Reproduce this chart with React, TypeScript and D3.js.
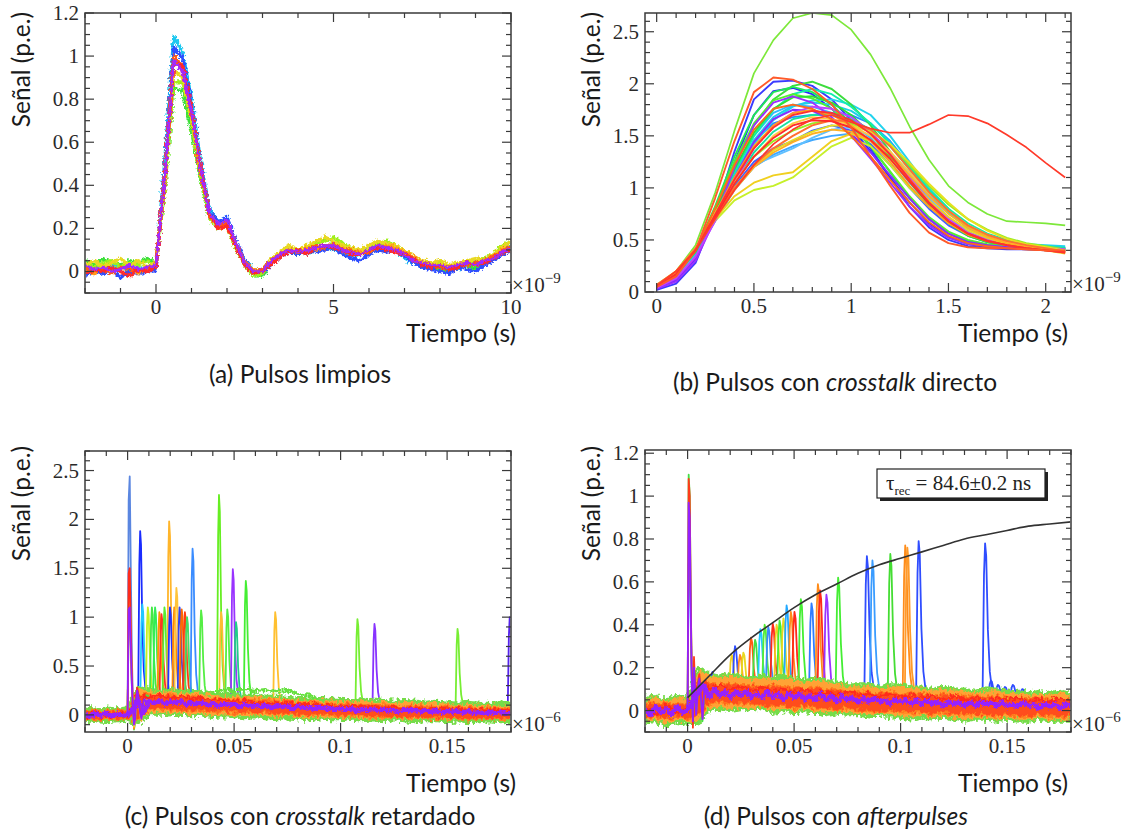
import React from "react";
import * as d3 from "d3";

const SERIF = "'Liberation Serif', 'Times New Roman', serif";
const SANS = "Lato, 'Open Sans', sans-serif";

// ---------------- Panel (a): pulsos limpios ----------------
const timeA = d3.range(-2, 10.001, 0.25);
const tracesA: number[][] = [
  [0.05,0.03,0.06,0.04,0.03,0.05,0.04,0.06,0.04, 0.4,0.85,0.84,0.66,0.43,0.25,0.2,0.22, 0.12,0.03,-0.02,-0.02,0.04,0.08,0.09,0.08, 0.1,0.13,0.15,0.14,0.11,0.1,0.08,0.1, 0.13,0.13,0.11,0.08,0.05,0.03,0.02,0.01, 0.0,0.02,0.03,0.01,0.04,0.06,0.09,0.12],
  [0.0,0.02,0.01,0.03,0.02,0.0,0.02,0.01,0.02, 0.52,1.09,1.02,0.8,0.52,0.29,0.23,0.25, 0.13,0.05,0.01,0.0,0.04,0.08,0.09,0.1, 0.08,0.1,0.11,0.1,0.09,0.07,0.08,0.11, 0.11,0.12,0.1,0.06,0.04,0.02,0.04,0.03, 0.03,0.01,0.03,0.05,0.04,0.07,0.1,0.13],
  [-0.02,0.0,-0.01,0.01,-0.03,0.0,-0.01,0.0,0.01, 0.48,1.04,0.99,0.77,0.5,0.28,0.23,0.25, 0.14,0.05,0.0,-0.01,0.03,0.07,0.09,0.08, 0.1,0.09,0.1,0.11,0.08,0.06,0.05,0.08, 0.1,0.09,0.1,0.07,0.04,0.02,0.01,0.0, -0.01,0.02,0.01,0.0,0.03,0.05,0.08,0.1],
  [0.04,0.02,0.04,0.05,0.02,0.04,0.03,0.05,0.03, 0.4,0.88,0.88,0.7,0.45,0.25,0.2,0.21, 0.11,0.03,-0.02,-0.01,0.05,0.08,0.11,0.1, 0.11,0.13,0.14,0.16,0.13,0.11,0.09,0.1, 0.12,0.14,0.12,0.1,0.06,0.04,0.03,0.04, 0.02,0.03,0.05,0.04,0.06,0.08,0.12,0.14],
  [0.03,0.05,0.02,0.04,0.06,0.03,0.05,0.02,0.05, 0.42,0.93,0.9,0.71,0.46,0.26,0.2,0.21, 0.12,0.04,0.0,0.01,0.06,0.09,0.12,0.1, 0.12,0.14,0.16,0.14,0.12,0.11,0.1,0.12, 0.14,0.13,0.12,0.1,0.07,0.05,0.04,0.05, 0.03,0.04,0.05,0.06,0.05,0.08,0.11,0.14],
  [0.01,-0.01,0.02,0.0,0.01,0.03,-0.01,0.02,0.03, 0.45,0.98,0.94,0.74,0.48,0.27,0.21,0.22, 0.12,0.04,0.01,0.0,0.04,0.07,0.1,0.09, 0.11,0.1,0.12,0.12,0.11,0.09,0.09,0.09, 0.11,0.12,0.11,0.09,0.07,0.04,0.03,0.03, 0.02,0.03,0.04,0.03,0.05,0.07,0.1,0.11],
  [0.02,0.0,0.01,-0.01,0.02,0.01,0.0,0.01,0.02, 0.47,1.0,0.95,0.74,0.47,0.26,0.21,0.23, 0.13,0.04,0.0,0.01,0.05,0.08,0.1,0.09, 0.1,0.12,0.11,0.13,0.1,0.1,0.08,0.09, 0.12,0.11,0.1,0.08,0.05,0.04,0.03,0.02, 0.02,0.03,0.03,0.04,0.05,0.07,0.09,0.12],
  [-0.01,0.01,0.0,0.02,0.0,-0.02,0.01,0.0,0.02, 0.44,0.97,0.95,0.75,0.49,0.27,0.2,0.21, 0.12,0.03,-0.01,0.0,0.03,0.07,0.09,0.1, 0.08,0.11,0.12,0.11,0.1,0.08,0.08,0.1, 0.11,0.1,0.09,0.08,0.06,0.03,0.02,0.03, 0.01,0.02,0.04,0.03,0.04,0.06,0.09,0.1],
  [0.03,0.01,0.02,0.0,0.01,0.03,0.01,0.02,0.03, 0.45,0.98,0.93,0.74,0.48,0.27,0.22,0.24, 0.13,0.04,0.0,0.0,0.05,0.08,0.1,0.09, 0.1,0.11,0.12,0.12,0.1,0.09,0.08,0.1, 0.12,0.11,0.1,0.08,0.05,0.04,0.03,0.03, 0.02,0.03,0.04,0.03,0.05,0.06,0.09,0.11],
];
const colorsA = ["#3be03b", "#1ec8f0", "#2f4dff", "#9ef01a", "#e8d820", "#ff9a1a", "#ff5a14", "#ff2a2a", "#a02cff"];
const xTicksA = [0, 5, 10];
const yTicksA = [0, 0.2, 0.4, 0.6, 0.8, 1, 1.2];

// ---------------- Panel (b): crosstalk directo ----------------
const timeB = [0, 0.1, 0.2, 0.3, 0.4, 0.5, 0.6, 0.7, 0.8, 0.9, 1.0, 1.1, 1.2, 1.3, 1.4, 1.5, 1.6, 1.7, 1.8, 1.9, 2.0, 2.1];
const tracesB: number[][] = [
  [0.02,0.08,0.28,0.75,1.35,1.85,2.02,2.03,1.98,1.85,1.65,1.38,1.1,0.82,0.62,0.5,0.44,0.42,0.41,0.41,0.41,0.4],
  [0.03,0.11,0.32,0.74,1.25,1.7,1.93,1.96,1.9,1.76,1.58,1.35,1.1,0.86,0.66,0.53,0.46,0.43,0.42,0.41,0.4,0.39],
  [0.04,0.14,0.36,0.7,1.02,1.25,1.38,1.45,1.55,1.6,1.55,1.42,1.22,1.0,0.8,0.64,0.54,0.48,0.45,0.43,0.42,0.41],
  [0.04,0.13,0.35,0.72,1.12,1.45,1.62,1.68,1.7,1.72,1.7,1.62,1.45,1.22,0.98,0.78,0.62,0.52,0.46,0.44,0.43,0.42],
  [0.05,0.15,0.37,0.68,0.98,1.2,1.32,1.4,1.46,1.5,1.52,1.46,1.34,1.15,0.94,0.76,0.62,0.53,0.48,0.45,0.43,0.42],
  [0.05,0.16,0.38,0.72,1.1,1.42,1.65,1.78,1.84,1.85,1.8,1.7,1.5,1.25,1.0,0.8,0.63,0.53,0.48,0.46,0.45,0.44],
  [0.05,0.15,0.37,0.73,1.12,1.46,1.68,1.79,1.82,1.8,1.74,1.62,1.44,1.2,0.97,0.77,0.61,0.52,0.47,0.45,0.44,0.43],
  [0.04,0.14,0.36,0.74,1.15,1.5,1.72,1.8,1.78,1.72,1.62,1.48,1.28,1.05,0.84,0.67,0.55,0.48,0.44,0.42,0.41,0.4],
  [0.05,0.15,0.38,0.7,1.0,1.22,1.3,1.38,1.48,1.56,1.58,1.5,1.34,1.12,0.9,0.72,0.58,0.5,0.46,0.44,0.43,0.42],
  [0.06,0.18,0.38,0.78,1.22,1.6,1.85,1.98,2.02,1.95,1.8,1.6,1.35,1.08,0.85,0.68,0.56,0.5,0.47,0.45,0.43,0.42],
  [0.05,0.16,0.4,0.82,1.3,1.7,1.92,1.97,1.92,1.8,1.62,1.4,1.15,0.9,0.7,0.56,0.49,0.45,0.43,0.42,0.41,0.4],
  [0.06,0.18,0.4,0.76,1.15,1.5,1.75,1.9,1.95,1.9,1.78,1.62,1.42,1.2,0.98,0.8,0.66,0.56,0.5,0.46,0.44,0.42],
  [0.05,0.16,0.38,0.7,1.04,1.34,1.54,1.66,1.7,1.7,1.66,1.56,1.4,1.18,0.96,0.78,0.63,0.54,0.48,0.45,0.43,0.42],
  [0.05,0.17,0.4,0.8,1.25,1.62,1.84,1.9,1.86,1.76,1.6,1.4,1.16,0.92,0.72,0.58,0.5,0.46,0.44,0.43,0.42,0.41],
  [0.05,0.17,0.39,0.77,1.18,1.53,1.76,1.87,1.88,1.82,1.7,1.52,1.3,1.06,0.84,0.66,0.54,0.48,0.45,0.43,0.42,0.41],
  [0.06,0.19,0.42,0.74,1.05,1.3,1.45,1.55,1.62,1.65,1.62,1.55,1.42,1.22,1.02,0.84,0.7,0.6,0.52,0.47,0.44,0.41],
  [0.07,0.2,0.42,0.68,0.88,0.98,1.02,1.1,1.25,1.4,1.48,1.4,1.22,1.0,0.82,0.68,0.58,0.5,0.45,0.42,0.4,0.38],
  [0.03,0.1,0.3,0.7,1.2,1.6,1.82,1.88,1.82,1.68,1.5,1.28,1.05,0.82,0.64,0.52,0.46,0.44,0.43,0.42,0.41,0.4],
  [0.04,0.12,0.33,0.7,1.1,1.44,1.66,1.75,1.74,1.66,1.52,1.34,1.12,0.9,0.7,0.56,0.48,0.45,0.43,0.42,0.41,0.4],
  [0.04,0.13,0.34,0.68,1.05,1.38,1.6,1.72,1.78,1.76,1.68,1.54,1.34,1.1,0.88,0.7,0.57,0.5,0.46,0.44,0.42,0.41],
  [0.06,0.19,0.42,0.7,0.92,1.05,1.12,1.15,1.3,1.45,1.52,1.45,1.28,1.08,0.88,0.72,0.6,0.52,0.46,0.42,0.4,0.37],
  [0.06,0.19,0.42,0.72,1.0,1.22,1.36,1.46,1.54,1.6,1.6,1.54,1.42,1.24,1.04,0.86,0.7,0.59,0.51,0.46,0.43,0.4],
  [0.06,0.19,0.42,0.76,1.05,1.3,1.5,1.62,1.68,1.66,1.6,1.5,1.35,1.15,0.95,0.78,0.64,0.55,0.48,0.44,0.41,0.38],
  [0.06,0.18,0.41,0.7,0.98,1.2,1.34,1.44,1.52,1.56,1.54,1.46,1.32,1.12,0.92,0.75,0.62,0.53,0.47,0.43,0.41,0.38],
  [0.05,0.17,0.4,0.75,1.1,1.4,1.6,1.72,1.75,1.7,1.6,1.45,1.25,1.02,0.82,0.66,0.55,0.49,0.45,0.43,0.41,0.39],
  [0.07,0.2,0.42,0.72,1.0,1.22,1.38,1.5,1.6,1.65,1.64,1.56,1.4,1.18,0.96,0.78,0.64,0.55,0.49,0.45,0.42,0.39],
  [0.05,0.16,0.4,0.8,1.22,1.56,1.76,1.8,1.76,1.66,1.5,1.3,1.08,0.86,0.67,0.54,0.47,0.44,0.42,0.41,0.4,0.39],
  [0.05,0.17,0.4,0.72,1.04,1.3,1.48,1.6,1.65,1.64,1.58,1.46,1.28,1.06,0.85,0.68,0.56,0.49,0.45,0.42,0.4,0.38],
  [0.05,0.17,0.4,0.74,1.08,1.38,1.58,1.7,1.74,1.72,1.65,1.52,1.32,1.08,0.86,0.68,0.56,0.49,0.45,0.42,0.4,0.38],
  [0.05,0.15,0.4,0.9,1.45,1.92,2.06,2.04,1.95,1.8,1.58,1.3,1.02,0.76,0.57,0.47,0.43,0.42,0.42,0.41,0.4,0.4],
];
const colorsB = ["#3a3aff", "#2a2aff", "#4060ff", "#2090ff", "#40a8ff", "#22d3ee", "#1ed0e8", "#33bbff", "#60c0ff", "#3ddc3d", "#22e855", "#11eeaa", "#18e0a0", "#55f030", "#30e030", "#99ee22", "#c6f02a", "#9b30ff", "#8a2aff", "#c040ff", "#f0d020", "#e8e020", "#ffc840", "#ffb020", "#ffa020", "#ff7030", "#ff6a1a", "#ff2a2a", "#ff3030", "#ff5a2a"];
const outlierGreenB = [0.03,0.2,0.45,0.95,1.55,2.1,2.42,2.63,2.68,2.66,2.52,2.28,1.96,1.59,1.27,1.02,0.86,0.75,0.68,0.67,0.66,0.64];
const outlierRedB = [0.06,0.2,0.4,0.7,0.98,1.22,1.42,1.56,1.66,1.7,1.63,1.57,1.53,1.53,1.61,1.7,1.69,1.62,1.51,1.39,1.24,1.1];
const xTicksB = [0, 0.5, 1, 1.5, 2];
const yTicksB = [0, 0.5, 1, 1.5, 2, 2.5];

// ---------------- shared for (c) and (d) ----------------
const timeBand = d3.range(-0.02, 0.18001, 0.005);
const timeFine = d3.range(-0.02, 0.18001, 0.0025);
const timeRing = d3.range(0, 0.01001, 0.0005);
const spikeProfileT = [-0.0004, 0, 0.0005, 0.0009, 0.0013, 0.0019, 0.0026, 0.0035, 0.0045];
const spikeProfileF = [0, 0.05, 0.8, 1, 0.92, 0.45, 0.18, 0.05, 0];
const xTicksCD = [0, 0.05, 0.1, 0.15];

// ---------------- Panel (c): crosstalk retardado ----------------
const outerHiC = [0.07,0.06,0.07,0.06,0.07, 0.28,0.26,0.25,0.26,0.24,0.25,0.23,0.22,0.21,0.21,0.2,0.2,0.19,0.19,0.18,0.17,0.16,0.17,0.16,0.16,0.15,0.17,0.15,0.15,0.14,0.15,0.14,0.13,0.14,0.13,0.12,0.13,0.12,0.12,0.11,0.12];
const outerLoC = [-0.07,-0.06,-0.07,-0.06,-0.06, -0.08,0.0,0.01,0.0,0.01,-0.01,0.0,-0.02,-0.01,-0.02,-0.03,-0.02,-0.03,-0.04,-0.03,-0.04,-0.05,-0.04,-0.05,-0.05,-0.04,-0.06,-0.05,-0.06,-0.05,-0.06,-0.07,-0.06,-0.06,-0.07,-0.06,-0.07,-0.07,-0.06,-0.07,-0.07];
const midHiC = [0.04,0.05,0.04,0.05,0.05, 0.22,0.21,0.2,0.21,0.19,0.2,0.18,0.17,0.18,0.16,0.17,0.15,0.16,0.14,0.15,0.13,0.13,0.12,0.12,0.11,0.12,0.1,0.11,0.1,0.1,0.09,0.1,0.09,0.08,0.09,0.08,0.08,0.07,0.08,0.07,0.07];
const midLoC = [-0.04,-0.05,-0.04,-0.05,-0.04, -0.05,0.05,0.06,0.05,0.05,0.04,0.04,0.03,0.03,0.02,0.02,0.01,0.02,0.0,0.01,0.0,-0.01,0.0,-0.01,-0.02,-0.01,-0.02,-0.02,-0.03,-0.02,-0.03,-0.03,-0.04,-0.03,-0.04,-0.04,-0.05,-0.04,-0.05,-0.04,-0.05];
const redC = [-0.03,0.02,-0.02,0.01,0.0, 0.2,0.18,0.2,0.17,0.19,0.16,0.17,0.15,0.16,0.13,0.15,0.12,0.13,0.11,0.12,0.1,0.11,0.09,0.1,0.08,0.09,0.07,0.08,0.06,0.08,0.06,0.07,0.05,0.07,0.05,0.06,0.04,0.06,0.04,0.05,0.04];
const greenTailT = [0.04, 0.045, 0.05, 0.055, 0.06, 0.065, 0.07, 0.075, 0.08, 0.085, 0.09];
const greenTailC = [0.22, 0.26, 0.24, 0.27, 0.25, 0.26, 0.24, 0.25, 0.22, 0.2, 0.17];
const purpleC = [0.01,-0.02,0.02,-0.01,0.02,-0.02,0.01,-0.01,0.0,
  0.05,0.16,0.02,0.14,0.12,0.15,0.11,0.14, 0.12,0.14,0.1,0.13,0.11,0.13,0.1,0.12,
  0.09,0.12,0.1,0.11,0.08,0.11,0.09,0.1, 0.08,0.1,0.07,0.09,0.08,0.09,0.06,0.09,
  0.07,0.08,0.06,0.08,0.06,0.07,0.05,0.07, 0.05,0.07,0.04,0.06,0.05,0.06,0.04,0.06,
  0.04,0.05,0.03,0.05,0.04,0.05,0.03,0.05, 0.03,0.04,0.02,0.04,0.03,0.04,0.02,0.04,
  0.02,0.03,0.01,0.03,0.02,0.03,0.01,0.02];
const ringC: number[][] = [
  [0.0,1.02,1.1,0.72,0.3,0.05,-0.15,-0.08,0.1,0.2,0.18,0.1,0.0,-0.03,0.06,0.14,0.18,0.2,0.2,0.19,0.2],
  [0.0,2.2,2.44,1.5,0.6,0.15,-0.08,0.0,0.15,0.2,0.15,0.08,0.0,0.0,0.06,0.12,0.14,0.13,0.12,0.13,0.12],
  [0.0,1.05,1.12,0.75,0.32,0.06,-0.14,-0.06,0.12,0.24,0.2,0.08,-0.02,-0.06,0.04,0.12,0.15,0.14,0.13,0.14,0.13],
  [0.0,1.2,1.33,0.8,0.35,0.08,-0.12,-0.02,0.18,0.22,0.18,0.1,0.0,-0.05,0.06,0.14,0.16,0.15,0.14,0.15,0.16],
  [0.0,1.45,1.5,0.9,0.4,0.1,-0.06,0.0,0.2,0.28,0.22,0.12,0.02,-0.02,0.08,0.18,0.2,0.17,0.18,0.17,0.18],
  [0.0,1.08,1.1,0.7,0.3,0.05,-0.1,-0.05,0.15,0.25,0.2,0.1,0.0,-0.04,0.05,0.15,0.16,0.13,0.14,0.13,0.14],
];
const ringColorsC = ["#44e044", "#5a86e0", "#ff8a10", "#f0d830", "#ff2a1a", "#9420ff"];
const spikeTimesC = [0.005, 0.006, 0.0086, 0.0105, 0.012, 0.014, 0.015, 0.0164, 0.0186, 0.019, 0.021, 0.022, 0.0235, 0.0245, 0.026, 0.027, 0.0296, 0.0336, 0.042, 0.043, 0.0459, 0.0485, 0.05, 0.0546, 0.0684, 0.107, 0.115, 0.154, 0.1785];
const spikePeaksC = [1.88, 1.13, 1.1, 1.1, 1.1, 1.05, 1.03, 1.1, 1.98, 1.1, 1.1, 1.3, 1.1, 1.08, 1.05, 1.0, 1.7, 1.07, 2.25, 1.05, 1.08, 1.49, 0.95, 1.37, 1.05, 0.98, 0.93, 0.88, 1.0];
const spikeBaseC = [0.15, 0.15, 0.15, 0.15, 0.15, 0.15, 0.15, 0.15, 0.15, 0.15, 0.14, 0.14, 0.14, 0.14, 0.14, 0.14, 0.13, 0.13, 0.12, 0.12, 0.12, 0.12, 0.11, 0.11, 0.1, 0.08, 0.08, 0.06, 0.05];
const spikeColorsC = ["#1a2cff", "#22c8ff", "#c8f020", "#44e844", "#33ee55", "#ff9900", "#ff3322", "#55ee33", "#ffb52a", "#2233ff", "#ff8800", "#ffc43a", "#3344ee", "#ff6a00", "#ff3a10", "#44dd66", "#3a8cff", "#55ee44", "#66ee22", "#ffbb33", "#55ee44", "#9933ff", "#22cc88", "#44ee33", "#ffc030", "#77ee33", "#8833ff", "#77ee33", "#5522ee"];
const yTicksC = [0, 0.5, 1, 1.5, 2, 2.5];

// ---------------- Panel (d): afterpulses ----------------
const outerHiD = [0.06,0.07,0.05,0.07,0.06, 0.2,0.17,0.16,0.17,0.16,0.15,0.16,0.15,0.16,0.15,0.14,0.15,0.14,0.13,0.12,0.12,0.12,0.11,0.12,0.12,0.11,0.11,0.1,0.11,0.1,0.1,0.09,0.1,0.1,0.09,0.09,0.08,0.09,0.08,0.09,0.08];
const outerLoD = [-0.06,-0.05,-0.07,-0.05,-0.06, -0.06,0.0,0.01,0.0,0.01,0.0,0.01,-0.01,0.0,-0.01,0.0,-0.01,-0.02,-0.01,-0.02,-0.02,-0.03,-0.02,-0.03,-0.03,-0.04,-0.03,-0.04,-0.03,-0.04,-0.05,-0.04,-0.04,-0.05,-0.04,-0.05,-0.05,-0.04,-0.05,-0.05,-0.05];
const midHiD = [0.04,0.03,0.04,0.03,0.04, 0.13,0.13,0.12,0.13,0.12,0.12,0.11,0.12,0.11,0.11,0.1,0.11,0.1,0.1,0.09,0.09,0.09,0.08,0.09,0.08,0.08,0.08,0.07,0.08,0.07,0.07,0.07,0.06,0.07,0.06,0.06,0.06,0.06,0.05,0.06,0.05];
const midLoD = [-0.04,-0.03,-0.04,-0.03,-0.04, -0.02,0.03,0.04,0.03,0.03,0.03,0.02,0.02,0.02,0.01,0.02,0.01,0.01,0.0,0.01,0.0,0.0,-0.01,0.0,-0.01,-0.01,-0.01,-0.02,-0.01,-0.02,-0.02,-0.02,-0.02,-0.03,-0.02,-0.03,-0.03,-0.02,-0.03,-0.03,-0.03];
const redD = [0.02,-0.02,0.03,-0.01,0.01, 0.12,0.1,0.12,0.1,0.11,0.09,0.11,0.09,0.1,0.08,0.1,0.08,0.09,0.07,0.09,0.07,0.08,0.06,0.08,0.06,0.07,0.06,0.07,0.05,0.07,0.05,0.06,0.04,0.06,0.05,0.06,0.04,0.05,0.04,0.06,0.04];
const purpleD = [0.0,-0.02,0.02,-0.01,0.01,-0.02,0.02,-0.01,0.0,
  0.05,0.08,0.12,0.06,0.1,0.07,0.09,0.06, 0.09,0.07,0.09,0.06,0.08,0.06,0.09,0.06,
  0.08,0.05,0.08,0.06,0.08,0.05,0.07,0.05, 0.08,0.05,0.07,0.04,0.07,0.05,0.06,0.04,
  0.06,0.04,0.06,0.04,0.05,0.03,0.05,0.04, 0.05,0.03,0.05,0.03,0.05,0.03,0.04,0.02,
  0.04,0.03,0.04,0.02,0.04,0.02,0.04,0.03, 0.04,0.02,0.04,0.02,0.03,0.02,0.04,0.02,
  0.03,0.01,0.03,0.02,0.03,0.01,0.03,0.02];
const ringD: number[][] = [
  [0.0,0.68,0.72,0.4,0.1,-0.04,0.18,0.1,-0.01,0.05,0.12,0.14,0.1,0.03,-0.03,0.05,0.1,0.12,0.09,0.07,0.09],
  [0.0,1.1,1.0,0.5,0.12,-0.06,0.22,0.1,0.0,0.05,0.13,0.16,0.1,0.04,-0.05,0.04,0.1,0.13,0.09,0.07,0.09],
  [0.0,1.08,1.0,0.5,0.15,-0.08,0.25,0.12,0.0,0.06,0.14,0.17,0.12,0.05,-0.03,0.06,0.12,0.14,0.1,0.08,0.1],
  [0.0,0.97,0.9,0.45,0.1,-0.05,0.2,0.1,-0.02,0.05,0.12,0.15,0.1,0.03,-0.04,0.05,0.1,0.12,0.09,0.07,0.08],
];
const ringColorsD = ["#3aa0ff", "#44e044", "#ff3a1a", "#9420ff"];
const spikeTimesD = [0.005, 0.0105, 0.0195, 0.0211, 0.0234, 0.025, 0.0286, 0.0305, 0.033, 0.035, 0.0367, 0.0388, 0.0406, 0.042, 0.0438, 0.0453, 0.0473, 0.049, 0.052, 0.057, 0.06, 0.061, 0.064, 0.0695, 0.083, 0.0856, 0.094, 0.101, 0.102, 0.1073, 0.1385, 0.1412, 0.1445, 0.1478, 0.1515, 0.156];
const spikePeaksD = [0.17, 0.18, 0.26, 0.3, 0.26, 0.27, 0.34, 0.33, 0.38, 0.4, 0.39, 0.405, 0.4, 0.42, 0.43, 0.49, 0.46, 0.46, 0.52, 0.5, 0.59, 0.56, 0.54, 0.62, 0.72, 0.7, 0.73, 0.77, 0.76, 0.79, 0.78, 0.14, 0.12, 0.11, 0.12, 0.1];
const spikeBaseD = [0.08, 0.08, 0.08, 0.08, 0.08, 0.08, 0.08, 0.08, 0.08, 0.08, 0.08, 0.08, 0.08, 0.08, 0.07, 0.07, 0.07, 0.07, 0.07, 0.06, 0.06, 0.06, 0.06, 0.06, 0.06, 0.06, 0.05, 0.05, 0.05, 0.05, 0.05, 0.06, 0.06, 0.06, 0.06, 0.06];
const spikeColorsD = ["#22c8ff", "#3344ff", "#f0d020", "#2f4dff", "#ff8c1a", "#e8d820", "#ff5a14", "#44e044", "#22c8ff", "#55ee33", "#3a8cff", "#ff2a1a", "#f0d020", "#44ee33", "#e8d820", "#22a8ff", "#ff8c1a", "#ff2a1a", "#44ee33", "#2f7dff", "#ff8c1a", "#ff2a1a", "#9933ff", "#44ee33", "#2f4dff", "#3a9cff", "#44dd33", "#ff8c1a", "#ff9a2a", "#2f4dff", "#2f4dff", "#2f4dff", "#2f4dff", "#2f4dff", "#2f4dff", "#2f4dff"];
const fitT = [0, 0.01, 0.02, 0.03, 0.04, 0.05, 0.06, 0.07, 0.08, 0.09, 0.1, 0.11, 0.12, 0.13, 0.14, 0.15, 0.16, 0.17, 0.18];
const fitV = [0.06, 0.16, 0.26, 0.34, 0.41, 0.48, 0.54, 0.59, 0.64, 0.68, 0.71, 0.74, 0.77, 0.8, 0.82, 0.84, 0.86, 0.87, 0.88];
const yTicksD = [0, 0.2, 0.4, 0.6, 0.8, 1, 1.2];

// ---------------- layout ----------------
type Cfg = {
  id: string; x0: number; x1: number; y0: number; y1: number;
  xd: [number, number]; yd: [number, number];
  xTicks: number[]; yTicks: number[]; xMinor: number; yMinor: number;
  exp: string; yTitleX: number; yTitleY: number; xTitleX: number; xTitleY: number;
};

const cfgA: Cfg = { id: "a", x0: 85, x1: 511, y0: 13, y1: 293, xd: [-2, 10], yd: [-0.1, 1.2], xTicks: xTicksA, yTicks: yTicksA, xMinor: 1, yMinor: 0.05, exp: "\u22129", yTitleX: 30, yTitleY: 12, xTitleX: 516, xTitleY: 342 };
const cfgB: Cfg = { id: "b", x0: 645, x1: 1071, y0: 13, y1: 292, xd: [-0.06, 2.13], yd: [0, 2.68], xTicks: xTicksB, yTicks: yTicksB, xMinor: 0.1, yMinor: 0.1, exp: "\u22129", yTitleX: 600, yTitleY: 12, xTitleX: 1068, xTitleY: 342 };
const cfgC: Cfg = { id: "c", x0: 85, x1: 511, y0: 451, y1: 732, xd: [-0.02, 0.18], yd: [-0.175, 2.7], xTicks: xTicksCD, yTicks: yTicksC, xMinor: 0.01, yMinor: 0.1, exp: "\u22126", yTitleX: 30, yTitleY: 446, xTitleX: 516, xTitleY: 792 };
const cfgD: Cfg = { id: "d", x0: 645, x1: 1071, y0: 450, y1: 732, xd: [-0.02, 0.18], yd: [-0.1, 1.215], xTicks: xTicksCD, yTicks: yTicksD, xMinor: 0.01, yMinor: 0.05, exp: "\u22126", yTitleX: 600, yTitleY: 446, xTitleX: 1068, xTitleY: 792 };

function scales(c: Cfg) {
  const x = d3.scaleLinear().domain(c.xd).range([c.x0, c.x1]);
  const y = d3.scaleLinear().domain(c.yd).range([c.y1, c.y0]);
  return { x, y };
}

function stepsIn(d: [number, number], step: number) {
  const a = Math.ceil(d[0] / step - 1e-6);
  const b = Math.floor(d[1] / step + 1e-6);
  return d3.range(a, b + 1).map((k) => +(k * step).toFixed(6));
}

const FRAME = "#3a3a3a";
const TITLE_SIZE = 24.5;

function Axes({ c }: { c: Cfg }) {
  const { x, y } = scales(c);
  const MAJ = 9, MIN = 5;
  const xs = stepsIn(c.xd, c.xMinor);
  const ys = stepsIn(c.yd, c.yMinor);
  const isMaj = (arr: number[], v: number, s: number) => arr.some((m) => Math.abs(m - v) < s * 0.01);
  const ticks: React.ReactNode[] = [];
  xs.forEach((v, i) => {
    const L = isMaj(c.xTicks, v, c.xMinor) ? MAJ : MIN;
    const px = x(v);
    ticks.push(<line key={"xb" + i} x1={px} x2={px} y1={c.y1} y2={c.y1 - L} />);
    ticks.push(<line key={"xt" + i} x1={px} x2={px} y1={c.y0} y2={c.y0 + L} />);
  });
  ys.forEach((v, i) => {
    const L = isMaj(c.yTicks, v, c.yMinor) ? MAJ : MIN;
    const py = y(v);
    ticks.push(<line key={"yl" + i} x1={c.x0} x2={c.x0 + L} y1={py} y2={py} />);
    ticks.push(<line key={"yr" + i} x1={c.x1} x2={c.x1 - L} y1={py} y2={py} />);
  });
  return (
    <g>
      <g stroke={FRAME} strokeWidth={1.2}>{ticks}</g>
      <rect x={c.x0} y={c.y0} width={c.x1 - c.x0} height={c.y1 - c.y0} fill="none" stroke={FRAME} strokeWidth={1.5} />
      <g fontFamily={SERIF} fontSize={21} fill="#2a2a2a">
        {c.xTicks.map((v) => (
          <text key={"xl" + v} x={x(v)} y={c.y1 + 21} textAnchor="middle">{String(v)}</text>
        ))}
        {c.yTicks.map((v) => (
          <text key={"yl" + v} x={c.x0 - 6} y={y(v) + 7} textAnchor="end">{String(v)}</text>
        ))}
        <text x={c.x1 + 1} y={c.y1 - 1}>
          ×10<tspan dy={-9} fontSize={15}>{c.exp}</tspan>
        </text>
      </g>
      <g fontFamily={SANS} fontSize={TITLE_SIZE} fill="#1a1a1a">
        <text transform={`translate(${c.yTitleX},${c.yTitleY}) rotate(-90)`} textAnchor="end">Señal (p.e.)</text>
        <text x={c.xTitleX} y={c.xTitleY} textAnchor="end">Tiempo (s)</text>
      </g>
    </g>
  );
}

function ClipDef({ c }: { c: Cfg }) {
  return (
    <clipPath id={"clip" + c.id}>
      <rect x={c.x0 + 0.8} y={c.y0 + 0.8} width={c.x1 - c.x0 - 1.6} height={c.y1 - c.y0 - 1.6} />
    </clipPath>
  );
}

function linePath(c: Cfg, ts: number[], vs: number[], curve: d3.CurveFactory = d3.curveLinear) {
  const { x, y } = scales(c);
  const n = Math.min(ts.length, vs.length);
  const pts: [number, number][] = d3.range(n).map((i) => [ts[i], vs[i]]);
  return d3.line<[number, number]>().x((d) => x(d[0])).y((d) => y(d[1])).curve(curve)(pts) || "";
}

function bandPath(c: Cfg, ts: number[], hi: number[], lo: number[]) {
  const { x, y } = scales(c);
  const n = Math.min(ts.length, hi.length, lo.length);
  const idx = d3.range(n);
  return d3.area<number>().x((i) => x(ts[i])).y0((i) => y(lo[i])).y1((i) => y(hi[i]))(idx) || "";
}

function spikePath(c: Cfg, t: number, peak: number, base: number, widthScale: number) {
  const ts = spikeProfileT.map((dt) => t + dt * widthScale);
  const vs = spikeProfileF.map((f) => base + (peak - base) * f);
  return linePath(c, ts, vs);
}

function PanelA() {
  const c = cfgA;
  return (
    <g>
      <g clipPath="url(#clipa)">
        <g fill="none" strokeLinejoin="round" filter="url(#jitterA)">
          {tracesA.map((tr, i) => (
            <path key={i} d={linePath(c, timeA, tr)} stroke={colorsA[i]} strokeWidth={i === tracesA.length - 1 ? 2.6 : 3.4} />
          ))}
        </g>
      </g>
      <Axes c={c} />
    </g>
  );
}

function PanelB() {
  const c = cfgB;
  return (
    <g>
      <g clipPath="url(#clipb)" fill="none" strokeLinejoin="round">
        <path d={linePath(c, timeB, outlierGreenB)} stroke="#7de83a" strokeWidth={1.7} />
        {tracesB.map((tr, i) => (
          <path key={i} d={linePath(c, timeB, tr)} stroke={colorsB[i]} strokeWidth={1.9} />
        ))}
        <path d={linePath(c, timeB, outlierRedB)} stroke="#ff3a2a" strokeWidth={1.7} />
      </g>
      <Axes c={c} />
    </g>
  );
}

function BandPanel({ c, outerHi, outerLo, midHi, midLo, red, purple, ring, ringColors, sT, sP, sB, sC, wScale, children }: any) {
  return (
    <g clipPath={`url(#clip${c.id})`}>
      <g fill="none" strokeLinejoin="round">
        {sT.map((t: number, i: number) => (
          <path key={"s" + i} d={spikePath(c, t, sP[i], sB[i], wScale)} stroke={sC[i]} strokeWidth={1.8} />
        ))}
      </g>
      <g filter="url(#jitterBand)" strokeLinejoin="round">
        <path d={bandPath(c, timeBand, outerHi, outerLo)} fill="#ffa234" stroke="#74dc48" strokeWidth={3} />
        <path d={bandPath(c, timeBand, midHi, midLo)} fill="#ff4e1e" stroke="#ff7a1a" strokeWidth={1.5} />
        {children}
        <path d={linePath(c, timeBand, red)} fill="none" stroke="#ff2a1a" strokeWidth={2.6} />
      </g>
      <g fill="none" strokeLinejoin="round">
        {ring.map((r: number[], i: number) => (
          <path key={"r" + i} d={linePath(c, timeRing, r)} stroke={ringColors[i]} strokeWidth={1.8} />
        ))}
      </g>
      <g filter="url(#jitterLine)">
        <path d={linePath(c, timeFine, purple)} fill="none" stroke="#9420ff" strokeWidth={4.4} strokeLinejoin="round" />
      </g>
    </g>
  );
}

function PanelC() {
  const c = cfgC;
  return (
    <g>
      <BandPanel c={c} outerHi={outerHiC} outerLo={outerLoC} midHi={midHiC} midLo={midLoC} red={redC} purple={purpleC}
        ring={ringC} ringColors={ringColorsC} sT={spikeTimesC} sP={spikePeaksC} sB={spikeBaseC} sC={spikeColorsC} wScale={1}>
        <path d={linePath(c, greenTailT, greenTailC)} fill="none" stroke="#66e040" strokeWidth={3} />
      </BandPanel>
      <Axes c={c} />
    </g>
  );
}

function PanelD() {
  const c = cfgD;
  const boxX = 877, boxY = 469, boxW = 168, boxH = 29;
  return (
    <g>
      <BandPanel c={c} outerHi={outerHiD} outerLo={outerLoD} midHi={midHiD} midLo={midLoD} red={redD} purple={purpleD}
        ring={ringD} ringColors={ringColorsD} sT={spikeTimesD} sP={spikePeaksD} sB={spikeBaseD} sC={spikeColorsD} wScale={1.3} />
      <g clipPath="url(#clipd)">
        <path d={linePath(c, fitT, fitV, d3.curveMonotoneX)} fill="none" stroke="#333" strokeWidth={1.6} />
      </g>
      <rect x={boxX + 3} y={boxY + 3} width={boxW} height={boxH} fill="#222" />
      <rect x={boxX} y={boxY} width={boxW} height={boxH} fill="#fff" stroke="#222" strokeWidth={1.2} />
      <text x={boxX + 9} y={boxY + 21} fontFamily={SERIF} fontSize={21} fill="#222">
        τ<tspan fontSize={13} dy={5}>rec</tspan><tspan dy={-5}> = 84.6±0.2 ns</tspan>
      </text>
      <Axes c={c} />
    </g>
  );
}

export default function App() {
  return (
    <svg width={1134} height={831} viewBox="0 0 1134 831" style={{ position: "absolute", left: 0, top: 0, background: "#fff" }}>
      <defs>
        <ClipDef c={cfgA} />
        <ClipDef c={cfgB} />
        <ClipDef c={cfgC} />
        <ClipDef c={cfgD} />
        <filter id="jitterA" x="-2%" y="-5%" width="104%" height="110%">
          <feTurbulence type="fractalNoise" baseFrequency="0.45 0.35" numOctaves={2} seed={4} result="n" />
          <feDisplacementMap in="SourceGraphic" in2="n" scale={6} xChannelSelector="R" yChannelSelector="G" />
        </filter>
        <filter id="jitterBand" x="-2%" y="-10%" width="104%" height="120%">
          <feTurbulence type="fractalNoise" baseFrequency="0.3 0.22" numOctaves={2} seed={7} result="n" />
          <feDisplacementMap in="SourceGraphic" in2="n" scale={9} xChannelSelector="R" yChannelSelector="G" />
        </filter>
        <filter id="jitterLine" x="-2%" y="-20%" width="104%" height="140%">
          <feTurbulence type="fractalNoise" baseFrequency="0.5 0.4" numOctaves={2} seed={11} result="n" />
          <feDisplacementMap in="SourceGraphic" in2="n" scale={6} xChannelSelector="R" yChannelSelector="G" />
        </filter>
      </defs>
      <rect width={1134} height={831} fill="#fff" />
      <PanelA />
      <PanelB />
      <PanelC />
      <PanelD />
      <g fontFamily={SANS} fontSize={TITLE_SIZE} fill="#1a1a1a" textAnchor="middle">
        <text x={300} y={383}>(a) Pulsos limpios</text>
        <text x={835} y={391}>(b) Pulsos con <tspan fontStyle="italic">crosstalk</tspan> directo</text>
        <text x={300} y={825}>(c) Pulsos con <tspan fontStyle="italic">crosstalk</tspan> retardado</text>
        <text x={836} y={825}>(d) Pulsos con <tspan fontStyle="italic">afterpulses</tspan></text>
      </g>
    </svg>
  );
}
